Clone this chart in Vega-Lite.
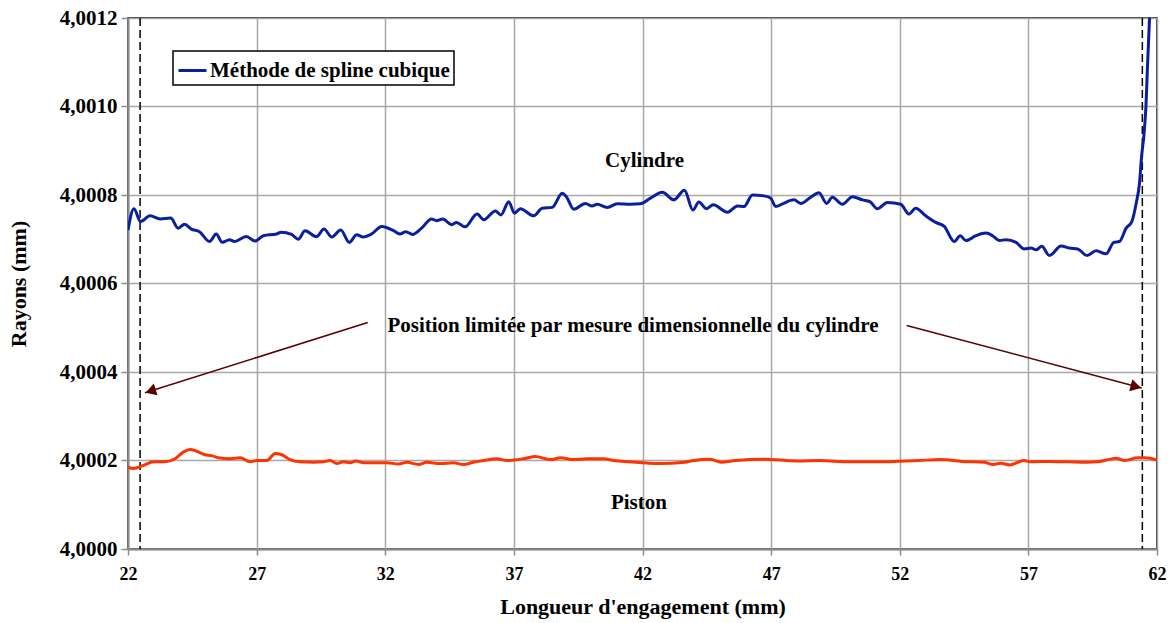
{
  "$schema": "https://vega.github.io/schema/vega-lite/v6.json",
  "width": 1029,
  "height": 531,
  "autosize": {"type": "none"},
  "padding": {"left": 128, "top": 18, "right": 14, "bottom": 74},
  "background": "white",
  "config": {
    "font": "Liberation Serif",
    "view": {"stroke": "black", "strokeWidth": 1.5},
    "legend": {"strokeWidth": 1.5},
    "style": {
      "guide-label": {"font": "Liberation Serif, serif", "fontWeight": "bold", "fill": "black"},
      "guide-title": {"font": "Liberation Serif, serif", "fontWeight": "bold", "fill": "black"}
    },
    "axis": {
      "grid": true, "gridColor": "#a8a8a8", "gridWidth": 1.5,
      "domainColor": "#8c8c8c", "domainWidth": 2,
      "ticks": true, "tickColor": "#8c8c8c", "tickWidth": 1.5,
      "labelFont": "Liberation Serif, serif", "labelFontWeight": "bold", "labelColor": "black", "labelFlush": false,
      "titleFont": "Liberation Serif, serif", "titleFontSize": 22, "titleFontWeight": "bold", "titleColor": "black"
    },
    "axisX": {"tickSize": 6, "labelFontSize": 18, "labelPadding": 10, "titleY": 64, "titleBaseline": "alphabetic"},
    "axisY": {"tickSize": 7, "labelFontSize": 21, "labelPadding": 4, "titleX": -110, "titleBaseline": "middle", "titleAngle": -90}
  },
  "datasets": {
    "cylindre": [
      {"longueur": 22.00, "rayon": 4.000721},
      {"longueur": 22.23, "rayon": 4.000769},
      {"longueur": 22.49, "rayon": 4.000740},
      {"longueur": 22.86, "rayon": 4.000753},
      {"longueur": 23.25, "rayon": 4.000746},
      {"longueur": 23.66, "rayon": 4.000748},
      {"longueur": 23.95, "rayon": 4.000725},
      {"longueur": 24.20, "rayon": 4.000734},
      {"longueur": 24.46, "rayon": 4.000723},
      {"longueur": 24.78, "rayon": 4.000717},
      {"longueur": 25.17, "rayon": 4.000695},
      {"longueur": 25.43, "rayon": 4.000712},
      {"longueur": 25.66, "rayon": 4.000693},
      {"longueur": 25.95, "rayon": 4.000699},
      {"longueur": 26.14, "rayon": 4.000695},
      {"longueur": 26.60, "rayon": 4.000706},
      {"longueur": 26.94, "rayon": 4.000696},
      {"longueur": 27.26, "rayon": 4.000708},
      {"longueur": 27.78, "rayon": 4.000712},
      {"longueur": 27.95, "rayon": 4.000716},
      {"longueur": 28.36, "rayon": 4.000711},
      {"longueur": 28.62, "rayon": 4.000700},
      {"longueur": 28.88, "rayon": 4.000719},
      {"longueur": 29.33, "rayon": 4.000706},
      {"longueur": 29.62, "rayon": 4.000723},
      {"longueur": 29.92, "rayon": 4.000705},
      {"longueur": 30.27, "rayon": 4.000721},
      {"longueur": 30.60, "rayon": 4.000693},
      {"longueur": 30.89, "rayon": 4.000710},
      {"longueur": 31.14, "rayon": 4.000705},
      {"longueur": 31.47, "rayon": 4.000712},
      {"longueur": 31.86, "rayon": 4.000729},
      {"longueur": 32.31, "rayon": 4.000720},
      {"longueur": 32.57, "rayon": 4.000712},
      {"longueur": 32.80, "rayon": 4.000717},
      {"longueur": 33.06, "rayon": 4.000711},
      {"longueur": 33.41, "rayon": 4.000725},
      {"longueur": 33.80, "rayon": 4.000746},
      {"longueur": 33.99, "rayon": 4.000742},
      {"longueur": 34.23, "rayon": 4.000746},
      {"longueur": 34.58, "rayon": 4.000733},
      {"longueur": 34.77, "rayon": 4.000738},
      {"longueur": 35.10, "rayon": 4.000728},
      {"longueur": 35.57, "rayon": 4.000757},
      {"longueur": 35.83, "rayon": 4.000744},
      {"longueur": 36.28, "rayon": 4.000764},
      {"longueur": 36.50, "rayon": 4.000755},
      {"longueur": 36.80, "rayon": 4.000785},
      {"longueur": 37.02, "rayon": 4.000759},
      {"longueur": 37.25, "rayon": 4.000769},
      {"longueur": 37.77, "rayon": 4.000753},
      {"longueur": 38.10, "rayon": 4.000770},
      {"longueur": 38.49, "rayon": 4.000772},
      {"longueur": 38.88, "rayon": 4.000804},
      {"longueur": 39.04, "rayon": 4.000796},
      {"longueur": 39.33, "rayon": 4.000768},
      {"longueur": 39.78, "rayon": 4.000781},
      {"longueur": 40.04, "rayon": 4.000775},
      {"longueur": 40.24, "rayon": 4.000779},
      {"longueur": 40.63, "rayon": 4.000772},
      {"longueur": 41.02, "rayon": 4.000780},
      {"longueur": 41.53, "rayon": 4.000779},
      {"longueur": 41.92, "rayon": 4.000780},
      {"longueur": 42.31, "rayon": 4.000793},
      {"longueur": 42.77, "rayon": 4.000806},
      {"longueur": 43.22, "rayon": 4.000789},
      {"longueur": 43.63, "rayon": 4.000811},
      {"longueur": 43.96, "rayon": 4.000766},
      {"longueur": 44.19, "rayon": 4.000784},
      {"longueur": 44.49, "rayon": 4.000769},
      {"longueur": 44.75, "rayon": 4.000778},
      {"longueur": 45.30, "rayon": 4.000761},
      {"longueur": 45.69, "rayon": 4.000775},
      {"longueur": 45.95, "rayon": 4.000774},
      {"longueur": 46.27, "rayon": 4.000800},
      {"longueur": 46.72, "rayon": 4.000798},
      {"longueur": 46.98, "rayon": 4.000793},
      {"longueur": 47.18, "rayon": 4.000774},
      {"longueur": 47.44, "rayon": 4.000780},
      {"longueur": 47.89, "rayon": 4.000789},
      {"longueur": 48.15, "rayon": 4.000781},
      {"longueur": 48.54, "rayon": 4.000795},
      {"longueur": 48.86, "rayon": 4.000805},
      {"longueur": 49.16, "rayon": 4.000781},
      {"longueur": 49.38, "rayon": 4.000795},
      {"longueur": 49.77, "rayon": 4.000779},
      {"longueur": 50.16, "rayon": 4.000796},
      {"longueur": 50.55, "rayon": 4.000789},
      {"longueur": 50.84, "rayon": 4.000785},
      {"longueur": 51.13, "rayon": 4.000769},
      {"longueur": 51.52, "rayon": 4.000783},
      {"longueur": 52.04, "rayon": 4.000779},
      {"longueur": 52.36, "rayon": 4.000757},
      {"longueur": 52.62, "rayon": 4.000770},
      {"longueur": 53.01, "rayon": 4.000753},
      {"longueur": 53.40, "rayon": 4.000738},
      {"longueur": 53.73, "rayon": 4.000729},
      {"longueur": 54.12, "rayon": 4.000695},
      {"longueur": 54.35, "rayon": 4.000708},
      {"longueur": 54.57, "rayon": 4.000697},
      {"longueur": 54.96, "rayon": 4.000708},
      {"longueur": 55.35, "rayon": 4.000714},
      {"longueur": 55.61, "rayon": 4.000708},
      {"longueur": 55.87, "rayon": 4.000697},
      {"longueur": 56.13, "rayon": 4.000699},
      {"longueur": 56.52, "rayon": 4.000693},
      {"longueur": 56.84, "rayon": 4.000678},
      {"longueur": 57.11, "rayon": 4.000680},
      {"longueur": 57.30, "rayon": 4.000676},
      {"longueur": 57.52, "rayon": 4.000684},
      {"longueur": 57.82, "rayon": 4.000663},
      {"longueur": 58.27, "rayon": 4.000685},
      {"longueur": 58.60, "rayon": 4.000680},
      {"longueur": 58.92, "rayon": 4.000678},
      {"longueur": 59.28, "rayon": 4.000663},
      {"longueur": 59.63, "rayon": 4.000674},
      {"longueur": 60.02, "rayon": 4.000667},
      {"longueur": 60.32, "rayon": 4.000693},
      {"longueur": 60.54, "rayon": 4.000695},
      {"longueur": 60.80, "rayon": 4.000725},
      {"longueur": 61.02, "rayon": 4.000740},
      {"longueur": 61.19, "rayon": 4.000781},
      {"longueur": 61.32, "rayon": 4.000827},
      {"longueur": 61.40, "rayon": 4.000887},
      {"longueur": 61.50, "rayon": 4.000940},
      {"longueur": 61.57, "rayon": 4.001000},
      {"longueur": 61.63, "rayon": 4.001090},
      {"longueur": 61.71, "rayon": 4.001200}
    ],
    "piston": [
      {"longueur": 22.00, "rayon": 4.000185},
      {"longueur": 22.20, "rayon": 4.000182},
      {"longueur": 22.60, "rayon": 4.000189},
      {"longueur": 22.99, "rayon": 4.000197},
      {"longueur": 23.44, "rayon": 4.000197},
      {"longueur": 23.83, "rayon": 4.000204},
      {"longueur": 24.15, "rayon": 4.000219},
      {"longueur": 24.41, "rayon": 4.000225},
      {"longueur": 24.67, "rayon": 4.000221},
      {"longueur": 25.00, "rayon": 4.000213},
      {"longueur": 25.25, "rayon": 4.000211},
      {"longueur": 25.51, "rayon": 4.000206},
      {"longueur": 25.97, "rayon": 4.000204},
      {"longueur": 26.36, "rayon": 4.000206},
      {"longueur": 26.75, "rayon": 4.000197},
      {"longueur": 27.01, "rayon": 4.000200},
      {"longueur": 27.40, "rayon": 4.000200},
      {"longueur": 27.72, "rayon": 4.000216},
      {"longueur": 27.98, "rayon": 4.000213},
      {"longueur": 28.30, "rayon": 4.000202},
      {"longueur": 28.69, "rayon": 4.000197},
      {"longueur": 29.21, "rayon": 4.000196},
      {"longueur": 29.60, "rayon": 4.000197},
      {"longueur": 29.86, "rayon": 4.000200},
      {"longueur": 30.12, "rayon": 4.000193},
      {"longueur": 30.37, "rayon": 4.000197},
      {"longueur": 30.63, "rayon": 4.000195},
      {"longueur": 30.87, "rayon": 4.000199},
      {"longueur": 31.16, "rayon": 4.000195},
      {"longueur": 32.06, "rayon": 4.000195},
      {"longueur": 32.52, "rayon": 4.000192},
      {"longueur": 32.84, "rayon": 4.000196},
      {"longueur": 33.29, "rayon": 4.000191},
      {"longueur": 33.62, "rayon": 4.000196},
      {"longueur": 34.14, "rayon": 4.000193},
      {"longueur": 34.65, "rayon": 4.000195},
      {"longueur": 35.04, "rayon": 4.000191},
      {"longueur": 35.43, "rayon": 4.000196},
      {"longueur": 35.82, "rayon": 4.000200},
      {"longueur": 36.34, "rayon": 4.000204},
      {"longueur": 36.73, "rayon": 4.000200},
      {"longueur": 37.38, "rayon": 4.000204},
      {"longueur": 37.84, "rayon": 4.000209},
      {"longueur": 38.42, "rayon": 4.000202},
      {"longueur": 38.81, "rayon": 4.000206},
      {"longueur": 39.33, "rayon": 4.000202},
      {"longueur": 39.85, "rayon": 4.000204},
      {"longueur": 40.50, "rayon": 4.000204},
      {"longueur": 40.89, "rayon": 4.000200},
      {"longueur": 41.50, "rayon": 4.000197},
      {"longueur": 42.64, "rayon": 4.000193},
      {"longueur": 43.63, "rayon": 4.000196},
      {"longueur": 43.99, "rayon": 4.000200},
      {"longueur": 44.63, "rayon": 4.000203},
      {"longueur": 45.05, "rayon": 4.000196},
      {"longueur": 45.62, "rayon": 4.000200},
      {"longueur": 46.75, "rayon": 4.000203},
      {"longueur": 48.03, "rayon": 4.000199},
      {"longueur": 48.89, "rayon": 4.000200},
      {"longueur": 50.03, "rayon": 4.000197},
      {"longueur": 51.16, "rayon": 4.000197},
      {"longueur": 52.72, "rayon": 4.000200},
      {"longueur": 53.58, "rayon": 4.000202},
      {"longueur": 54.43, "rayon": 4.000198},
      {"longueur": 55.28, "rayon": 4.000196},
      {"longueur": 55.64, "rayon": 4.000191},
      {"longueur": 55.92, "rayon": 4.000194},
      {"longueur": 56.28, "rayon": 4.000190},
      {"longueur": 56.84, "rayon": 4.000200},
      {"longueur": 57.05, "rayon": 4.000197},
      {"longueur": 57.84, "rayon": 4.000198},
      {"longueur": 58.55, "rayon": 4.000197},
      {"longueur": 59.26, "rayon": 4.000196},
      {"longueur": 59.69, "rayon": 4.000197},
      {"longueur": 60.11, "rayon": 4.000202},
      {"longueur": 60.40, "rayon": 4.000205},
      {"longueur": 60.75, "rayon": 4.000200},
      {"longueur": 61.25, "rayon": 4.000206},
      {"longueur": 61.53, "rayon": 4.000206},
      {"longueur": 62.00, "rayon": 4.000201}
    ]
  },
  "encoding": {
    "x": {
      "field": "longueur", "type": "quantitative",
      "scale": {"domain": [22, 62], "nice": false, "zero": false},
      "axis": {
        "values": [22, 27, 32, 37, 42, 47, 52, 57, 62],
        "labelFont": "Liberation Serif, serif", "labelFontWeight": "bold", "labelFontSize": 18,
        "titleFont": "Liberation Serif, serif", "titleFontWeight": "bold", "titleFontSize": 22
      },
      "title": "Longueur d'engagement (mm)"
    }
  },
  "layer": [
    {
      "data": {"values": [{"longueur": 22.47}, {"longueur": 61.43}]},
      "mark": {"type": "rule", "color": "black", "strokeWidth": 1.5, "strokeDash": [8, 4]}
    },
    {
      "data": {"name": "cylindre"},
      "mark": {"type": "line", "interpolate": "monotone", "strokeWidth": 3, "clip": true},
      "encoding": {
        "y": {
          "field": "rayon", "type": "quantitative",
          "scale": {"domain": [4.0, 4.0012], "nice": false, "zero": false},
          "axis": {
            "values": [4.0, 4.0002, 4.0004, 4.0006, 4.0008, 4.001, 4.0012],
            "labelExpr": "replace(format(datum.value, '.4f'), '.', ',')",
            "labelFont": "Liberation Serif, serif", "labelFontWeight": "bold", "labelFontSize": 21,
            "titleFont": "Liberation Serif, serif", "titleFontWeight": "bold", "titleFontSize": 22
          },
          "title": "Rayons (mm)"
        },
        "color": {
          "datum": "Méthode de spline cubique",
          "type": "nominal",
          "scale": {"range": ["#0a1f9e"]},
          "legend": {
            "title": null,
            "orient": "none",
            "legendX": 45,
            "legendY": 33,
            "direction": "vertical",
            "strokeColor": "black",
            "fillColor": "white",
            "padding": 4,
            "cornerRadius": 0,
            "symbolType": "stroke",
            "symbolSize": 784,
            "symbolStrokeWidth": 3,
            "labelFont": "Liberation Serif",
            "labelFontSize": 21,
            "labelFontWeight": "bold",
            "labelColor": "black",
            "labelOffset": 2,
            "labelLimit": 400
          }
        }
      }
    },
    {
      "data": {"name": "piston"},
      "mark": {"type": "line", "interpolate": "monotone", "strokeWidth": 3, "color": "#ff3300", "clip": true},
      "encoding": {
        "y": {"field": "rayon", "type": "quantitative", "scale": {"domain": [4.0, 4.0012], "nice": false, "zero": false}, "title": "Rayons (mm)"}
      }
    },
    {
      "data": {"values": [
        {"longueur": 31.32, "rayon": 4.000512, "longueur2": 22.66, "rayon2": 4.000353},
        {"longueur": 52.27, "rayon": 4.000505, "longueur2": 61.41, "rayon2": 4.000364}
      ]},
      "mark": {"type": "rule", "color": "#5a0000", "strokeWidth": 1.5},
      "encoding": {
        "y": {"field": "rayon", "type": "quantitative", "scale": {"domain": [4.0, 4.0012], "nice": false, "zero": false}, "title": "Rayons (mm)"},
        "x2": {"field": "longueur2"},
        "y2": {"field": "rayon2"}
      }
    },
    {
      "data": {"values": [{"longueur": 22.88, "rayon": 4.000357}]},
      "mark": {"type": "point", "shape": "triangle-up", "filled": true, "color": "#5a0000", "size": 150, "angle": 252, "opacity": 1},
      "encoding": {
        "y": {"field": "rayon", "type": "quantitative", "scale": {"domain": [4.0, 4.0012], "nice": false, "zero": false}, "title": "Rayons (mm)"}
      }
    },
    {
      "data": {"values": [{"longueur": 61.18, "rayon": 4.000367}]},
      "mark": {"type": "point", "shape": "triangle-up", "filled": true, "color": "#5a0000", "size": 150, "angle": 105, "opacity": 1},
      "encoding": {
        "y": {"field": "rayon", "type": "quantitative", "scale": {"domain": [4.0, 4.0012], "nice": false, "zero": false}, "title": "Rayons (mm)"}
      }
    },
    {
      "data": {"values": [
        {"longueur": 42.08, "rayon": 4.000877, "texte": "Cylindre"},
        {"longueur": 41.63, "rayon": 4.000504, "texte": "Position limitée par mesure dimensionnelle du cylindre"},
        {"longueur": 41.86, "rayon": 4.000105, "texte": "Piston"}
      ]},
      "mark": {"type": "text", "font": "Liberation Serif", "fontSize": 21, "fontWeight": "bold", "color": "black", "align": "center", "baseline": "middle"},
      "encoding": {
        "y": {"field": "rayon", "type": "quantitative", "scale": {"domain": [4.0, 4.0012], "nice": false, "zero": false}, "title": "Rayons (mm)"},
        "text": {"field": "texte"}
      }
    }
  ]
}
